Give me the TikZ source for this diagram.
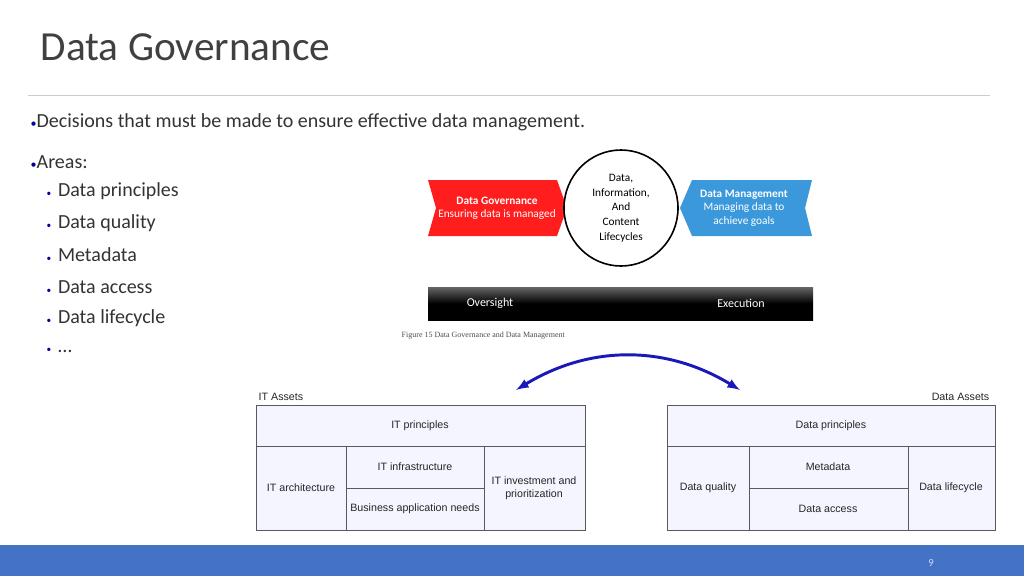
\documentclass[tikz,border=0pt]{standalone}
\usepackage{fontspec}
\setmainfont{Carlito}
\newfontfamily\figfont{Liberation Sans}
\newfontfamily\capfont{Liberation Serif}
\begin{document}
\begin{tikzpicture}[x=0.75pt,y=-0.75pt,
  cell/.style={draw=gray!70!black,fill=blue!4,line width=0.6pt},
  ctext/.style={font=\figfont\fontsize{8}{9.5}\selectfont,text=black!85,align=center},
  bul/.style={anchor=west,font=\fontsize{15}{18}\selectfont,text=black!80},
  sub/.style={anchor=west,font=\fontsize{15}{18}\selectfont,text=black!80}]
\useasboundingbox (0,0) rectangle (1024,576);
\node[anchor=west,font=\fontsize{31}{36}\selectfont,text=black!75] (title) at (36,47) {Data Governance};
\draw[black!20,line width=0.6pt] (28,95) -- (990,95);
\node[bul] (b1) at (26,122) {\textcolor{blue!60!black}{\small•}Decisions that must be made to ensure effective data management.};
\node[bul] (b2) at (26,162) {\textcolor{blue!60!black}{\small•}Areas:};
\foreach \y/\t [count=\i] in {191/Data principles,223/Data quality,255/Metadata,287/Data access,318/Data lifecycle,350/\ldots}
  \node[sub] (s\i) at (42,\y) {\textcolor{blue!60!black}{\scriptsize•}\hspace{5pt}\t};
% red arrow
\fill[red!85!pink] (428,180) -- (557,180) -- (567,208) -- (557,236) -- (428,236) -- (436,208) -- cycle;
\node[font=\fontsize{8.5}{10}\selectfont,text=white,align=center] (gov) at (497,208) {\textbf{Data Governance}\\Ensuring data is managed};
\fill[cyan!70!blue!80] (812,180) -- (692,180) -- (680,208) -- (692,236) -- (812,236) -- (805,208) -- cycle;
\node[font=\fontsize{8.5}{10}\selectfont,text=white,align=center] (mgmt) at (744,208) {\textbf{Data Management}\\Managing data to\\achieve goals};
\draw[line width=1.2pt,fill=white] (621,208) ellipse (57 and 58);
\node[font=\fontsize{8.5}{11}\selectfont,align=center] (circ) at (621,208) {Data,\\Information,\\And\\Content\\Lifecycles};
\shade[top color=black!60,bottom color=black,middle color=black] (428,287) rectangle (813,320);
\node[font=\fontsize{9}{10}\selectfont,text=white] (ov) at (490,303) {Oversight};
\node[font=\fontsize{9}{10}\selectfont,text=white] (ex) at (741,303) {Execution};
\node[anchor=west,font=\capfont\fontsize{6}{7}\selectfont,text=black!70] (cap) at (397,336) {Figure 15 Data Governance and Data Management};
% arc
\coordinate (aL) at (516,390);
\coordinate (aR) at (740,390);
\draw[blue!70!black!90,line width=2.2pt,<->,>={latex}] (aL) .. controls (590,345) and (666,345) .. (aR);
% left table
\node[anchor=west,ctext] (ita) at (254,397) {IT Assets};
\draw[cell] (256,405) rectangle (585,446);
\draw[cell] (256,446) rectangle (346,530);
\draw[cell] (346,446) rectangle (484,488);
\draw[cell] (346,488) rectangle (484,530);
\draw[cell] (484,446) rectangle (585,530);
\node[ctext] (t1) at (420,426) {IT principles};
\node[ctext] (t2) at (301,488) {IT architecture};
\node[ctext] (t3) at (415,467) {IT infrastructure};
\node[ctext] (t4) at (415,509) {Business application needs};
\node[ctext] (t5) at (534,488) {IT investment and\\prioritization};
% right table
\node[anchor=east,ctext] (dta) at (994,397) {Data Assets};
\draw[cell] (667,405) rectangle (995,446);
\draw[cell] (667,446) rectangle (749,530);
\draw[cell] (749,446) rectangle (908,488);
\draw[cell] (749,488) rectangle (908,530);
\draw[cell] (908,446) rectangle (995,530);
\node[ctext] (r1) at (831,426) {Data principles};
\node[ctext] (r2) at (708,488) {Data quality};
\node[ctext] (r3) at (828,467) {Metadata};
\node[ctext] (r4) at (828,509) {Data access};
\node[ctext] (r5) at (951,488) {Data lifecycle};
% footer
\fill[blue!55!cyan!60!black!75] (0,545) rectangle (1024,576);
\fill[blue!60!black!60] (0,545) rectangle (1024,576);
\fill[fill={rgb,255:red,68;green,114;blue,196}] (0,545) rectangle (1024,576);
\node[font=\fontsize{8}{9}\selectfont,text=white!85!blue] (pg) at (931,563) {9};
\end{tikzpicture}
\end{document}
